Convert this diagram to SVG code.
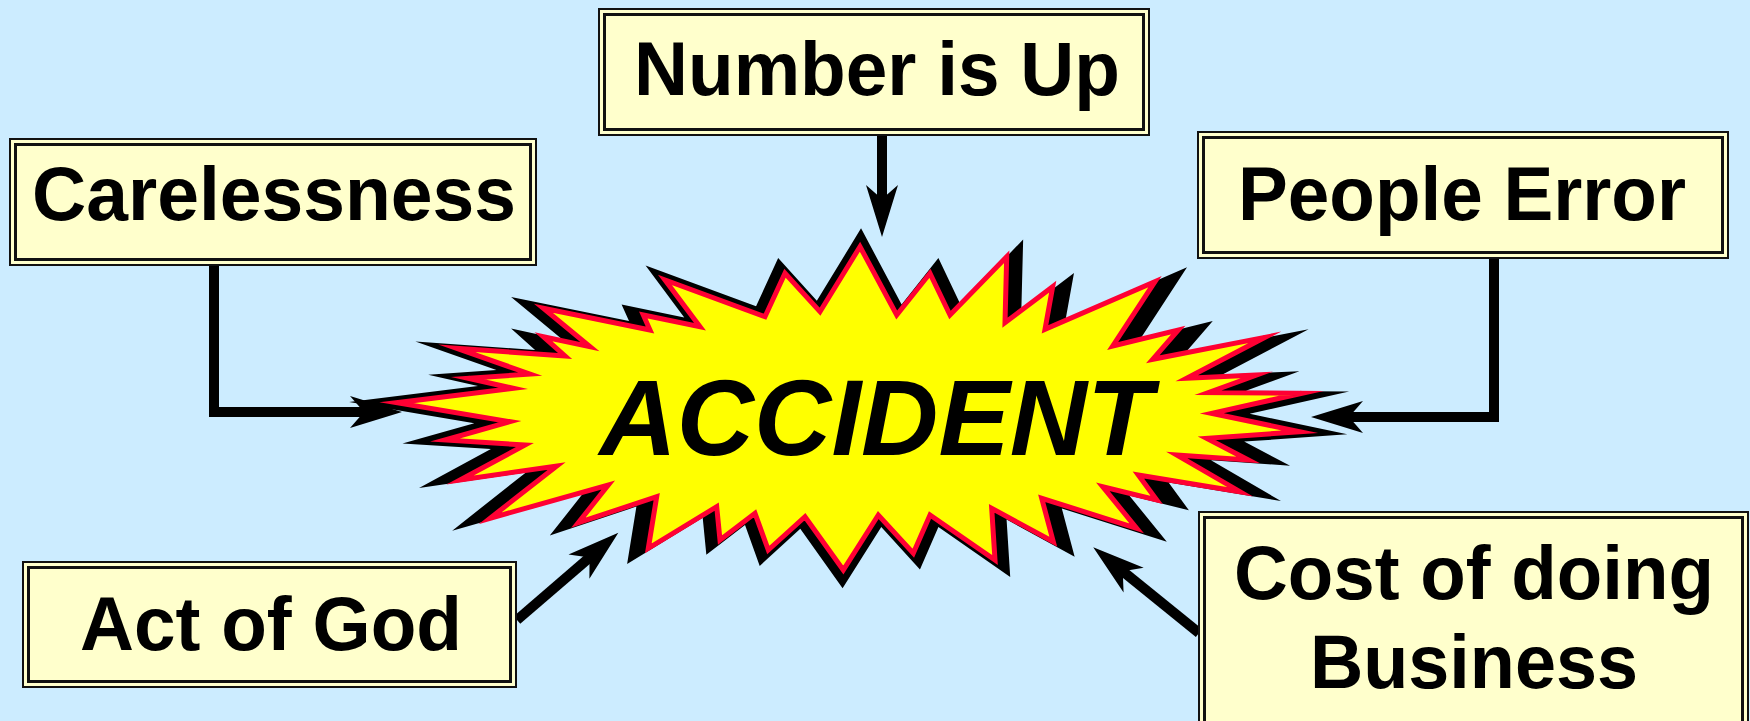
<svg xmlns="http://www.w3.org/2000/svg" width="1750" height="721" viewBox="0 0 1750 721">
<style>
.bo{fill:#FFFFCC;stroke:#111;stroke-width:2}
.bi{fill:none;stroke:#111;stroke-width:3}
.lb{font-family:"Liberation Sans",Arial,sans-serif;font-weight:bold;font-size:76px;fill:#000;text-anchor:middle}
.cn{fill:none;stroke:#000;stroke-width:10;stroke-linejoin:miter}
</style>
<defs>
<marker id="ah" markerUnits="userSpaceOnUse" orient="auto" refX="0" refY="0" markerWidth="60" markerHeight="40" overflow="visible">
<path d="M32,0 L-20,-16 L-6,0 L-20,16 Z" fill="#000"/>
</marker>
<polygon id="burst" points="860,246.7 896.7,315 930,273.3 950,315 1006.7,256.7 1005,322.7 1052.7,286.7 1045,329.3 1155,281.7 1112.7,346 1178.3,330 1152.7,359.3 1265,337.3 1186.7,378.3 1256.7,375 1208.3,392.7 1301.7,393.3 1211.7,413.3 1300,431.7 1206.7,438.3 1248.3,460 1176.7,455 1240,491.7 1138.3,475 1156.7,500 1102.7,486.7 1136.7,528.3 1041.7,498.3 1053.3,541.7 991.7,508.3 995,560 930,515 913.3,553.3 878.3,515 843.3,570 805,516.7 768.3,550 755,513.3 720,540 716.7,506.7 648.3,548.3 656.7,496.7 578.3,522.7 608.3,485 490,518.3 556.7,466 460,480 525,445 445,440 510,421.7 396.7,402.7 513.3,388.3 468.3,378.3 530,374 456.7,348.3 565,356 543.3,336.7 590,346.7 543.3,308.3 650,330 643.3,315 700,326.7 665,280 765,316.7 785,273.3 820,311.7"/>
</defs>
<rect x="0" y="0" width="1750" height="721" fill="#CCECFF"/>

<g id="connectors">
<polyline class="cn" points="214,266 214,412 370,412" marker-end="url(#ah)"/>
<line class="cn" x1="882" y1="136" x2="882" y2="205" marker-end="url(#ah)"/>
<polyline class="cn" points="1494,259 1494,417 1343,417" marker-end="url(#ah)"/>
<line class="cn" x1="517" y1="620" x2="594.1" y2="553.6" marker-end="url(#ah)"/>
<line class="cn" x1="1199" y1="633" x2="1118.1" y2="567.5" marker-end="url(#ah)"/>
</g>

<g id="accident">
<use href="#burst" fill="#000" transform="translate(850,409) scale(1.105,1.113) translate(-850,-409)"/>
<use href="#burst" fill="#FFFF00" stroke="#FF0033" stroke-width="5" stroke-linejoin="miter" stroke-miterlimit="20"/>
<text x="876" y="455" font-family="'Liberation Sans',Arial,sans-serif" font-weight="bold" font-style="italic" font-size="107" text-anchor="middle" fill="#000">ACCIDENT</text>
</g>

<g id="carelessness">
<rect class="bo" x="10" y="139" width="526" height="126"/>
<rect class="bi" x="15.5" y="144.5" width="515" height="115"/>
<text class="lb" x="274" y="220" textLength="484" lengthAdjust="spacingAndGlyphs">Carelessness</text>
</g>

<g id="number-is-up">
<rect class="bo" x="599" y="9" width="550" height="126"/>
<rect class="bi" x="604.5" y="14.5" width="539" height="115"/>
<text class="lb" x="877" y="95" textLength="486" lengthAdjust="spacingAndGlyphs">Number is Up</text>
</g>

<g id="people-error">
<rect class="bo" x="1198" y="132" width="530" height="126"/>
<rect class="bi" x="1203.5" y="137.5" width="519" height="115"/>
<text class="lb" x="1462" y="220" textLength="448" lengthAdjust="spacingAndGlyphs">People Error</text>
</g>

<g id="act-of-god">
<rect class="bo" x="23" y="562" width="493" height="125"/>
<rect class="bi" x="28.5" y="567.5" width="482" height="114"/>
<text class="lb" x="271" y="650" textLength="382" lengthAdjust="spacingAndGlyphs">Act of God</text>
</g>

<g id="cost-of-doing-business">
<rect class="bo" x="1199" y="512" width="549" height="228"/>
<rect class="bi" x="1204.5" y="517.5" width="538" height="217"/>
<text class="lb" x="1474" y="599" textLength="480" lengthAdjust="spacingAndGlyphs">Cost of doing</text>
<text class="lb" x="1474" y="688" textLength="328" lengthAdjust="spacingAndGlyphs">Business</text>
</g>
</svg>
